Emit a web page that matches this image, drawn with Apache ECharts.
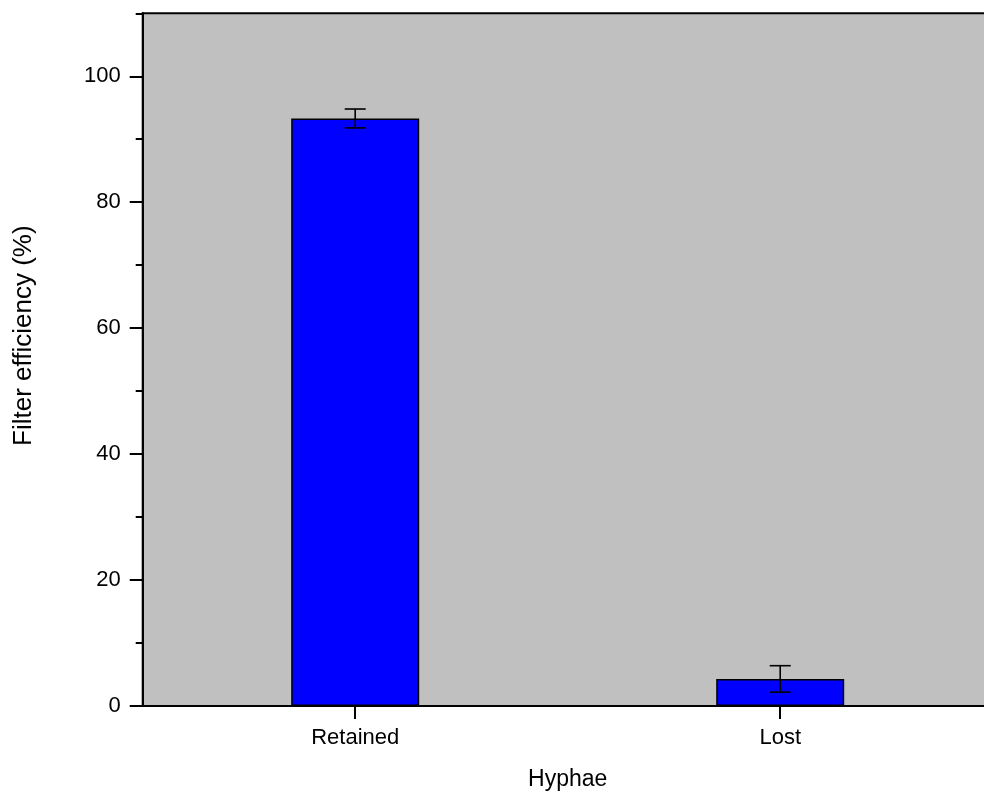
<!DOCTYPE html>
<html>
<head>
<meta charset="utf-8">
<script src="https://cdn.jsdelivr.net/npm/echarts@6/dist/echarts.min.js"></script>
<style>html,body{margin:0;padding:0;background:#fff;}#c{width:984px;height:799px;}</style>
</head>
<body>
<div id="c"></div>
<script>
const categories = ['Retained', 'Lost'];
const means = [93.3, 4.3];
const errors = [1.5, 2.1];
const majorTicks = [0, 20, 40, 60, 80, 100];

const FONT = '"Liberation Sans", Arial, sans-serif';
const chart = echarts.init(document.getElementById('c'));
const errData = categories.map((c, i) => [i, means[i] - errors[i], means[i] + errors[i]]);

chart.setOption({
  animation: false,
  grid: {
    left: 142.7, top: 13.3, bottom: 93, right: -8.7,
    show: true, backgroundColor: '#c0c0c0', borderColor: '#000', borderWidth: 2,
    outerBoundsMode: 'none', containLabel: false
  },
  xAxis: {
    type: 'category', data: categories,
    axisLine: { show: true, lineStyle: { color: '#000', width: 2 } },
    axisTick: { show: true, alignWithLabel: true, length: 13, lineStyle: { color: '#000', width: 2 } },
    axisLabel: { color: '#000', fontSize: 22, fontFamily: FONT, margin: 21 },
    name: 'Hyphae', nameLocation: 'middle', nameGap: 62,
    nameTextStyle: { color: '#000', fontSize: 23, fontFamily: FONT },
    splitLine: { show: false }
  },
  yAxis: [{
    type: 'value', min: 0, max: 110, interval: 20, position: 'left',
    axisLine: { show: true, lineStyle: { color: '#000', width: 2 } },
    axisTick: { show: true, length: 13, customValues: majorTicks, lineStyle: { color: '#000', width: 2 } },
    axisLabel: { color: '#000', fontSize: 22, fontFamily: FONT, margin: 22, customValues: majorTicks },
    name: 'Filter efficiency (%)', nameLocation: 'middle', nameGap: 106,
    nameTextStyle: { color: '#000', fontSize: 26, fontFamily: FONT, padding: [0, 0, 0, 48] },
    splitLine: { show: false }
  }, {
    type: 'value', min: 0, max: 110, interval: 10, position: 'left',
    axisLine: { show: true, lineStyle: { color: '#000', width: 2 } },
    axisTick: { show: true, length: 7, lineStyle: { color: '#000', width: 2 } },
    axisLabel: { show: false },
    splitLine: { show: false }
  }],
  series: [{
    type: 'bar', data: means, barWidth: 128, yAxisIndex: 0,
    itemStyle: { color: '#0000ff', borderColor: '#000', borderWidth: 1.5 }
  }, {
    type: 'custom', data: errData, yAxisIndex: 0, z: 10,
    encode: { x: 0, y: [1, 2] },
    renderItem: function (params, api) {
      const x = api.value(0);
      const lo = api.coord([x, api.value(1)]);
      const hi = api.coord([x, api.value(2)]);
      const hw = 10.5;
      const st = { stroke: '#000', lineWidth: 1.6 };
      return {
        type: 'group', children: [
          { type: 'line', shape: { x1: hi[0], y1: hi[1], x2: lo[0], y2: lo[1] }, style: st },
          { type: 'line', shape: { x1: hi[0] - hw, y1: hi[1], x2: hi[0] + hw, y2: hi[1] }, style: st },
          { type: 'line', shape: { x1: lo[0] - hw, y1: lo[1], x2: lo[0] + hw, y2: lo[1] }, style: st }
        ]
      };
    }
  }]
});
</script>
</body>
</html>
